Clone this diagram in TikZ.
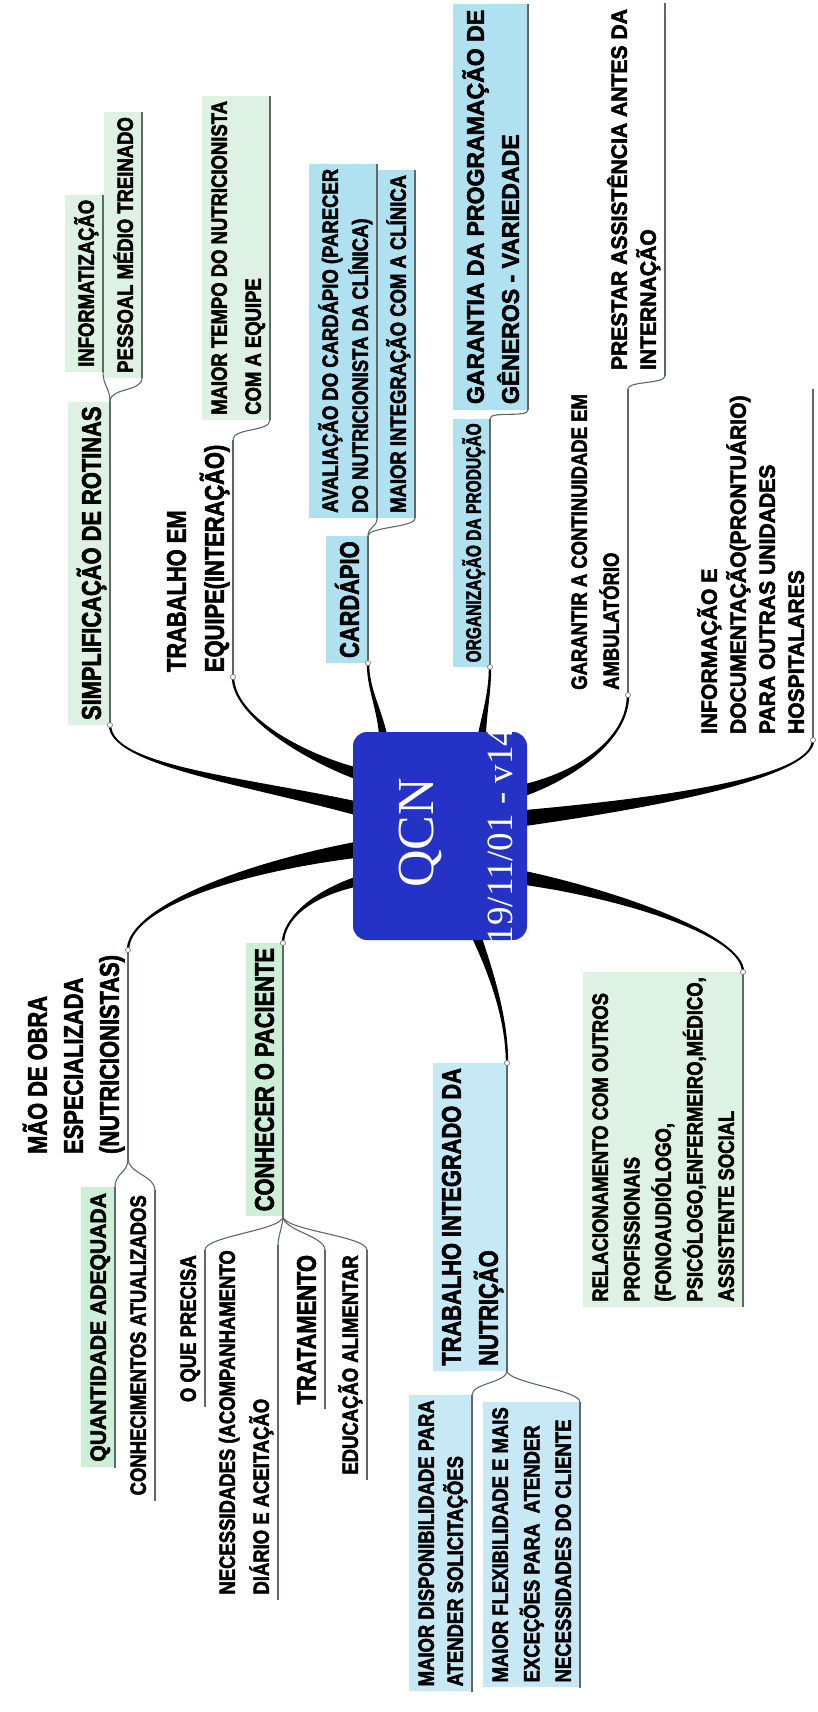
\documentclass[tikz,border=0pt]{standalone}
\usepackage{fontspec}
\setmainfont{Liberation Sans}[BoldFeatures={FakeBold=2.6}]
\newfontfamily\serf{Liberation Serif}
\usetikzlibrary{calc}

\definecolor{boxblue}{RGB}{36,50,198}
\definecolor{hlgreen}{RGB}{222,242,228}
\definecolor{hlgreen2}{RGB}{205,238,215}
\definecolor{hlcyan}{RGB}{176,225,240}
\definecolor{hlcyan2}{RGB}{198,233,245}
\definecolor{linegray}{RGB}{95,105,100}

% tapered connector: start, control1, control2, end, start half-width vector, end half-width vector
\newcommand\tconn[6]{%
  \fill[connfill] ($(#1)+#5$) .. controls ($(#2)+0.5*#5$) and ($(#3)+#6$) .. ($(#4)+#6$)
    -- ($(#4)-#6$) .. controls ($(#3)-#6$) and ($(#2)-0.5*#5$) .. ($(#1)-#5$) -- cycle;}

\tikzset{
  connfill/.style={fill=black},
  topic/.style={rotate=90, inner xsep=6pt, inner ysep=9pt, text depth=0pt, align=left, text=black},
  mtop/.style={font=\bfseries\fontsize{27}{#1}\selectfont, xscale=0.81}, mtop/.default=36,
  nar/.style={font=\bfseries\fontsize{22}{#1}\selectfont, xscale=0.84}, nar/.default=31,
  wid/.style={font=\bfseries\fontsize{22}{#1}\selectfont, xscale=0.96}, wid/.default=30,
  orgt/.style={font=\bfseries\fontsize{21}{28}\selectfont, xscale=0.74},
  gart/.style={font=\bfseries\fontsize{24}{35}\selectfont, xscale=0.96},
  uline/.style={draw=linegray, line width=1.2pt},
  fork/.style={draw=linegray, line width=1.1pt},
  joint/.style={circle, draw=linegray, fill=white, line width=0.6pt, inner sep=0pt, minimum size=5pt},
  qbox/.style={fill=boxblue, rounded corners=14pt, minimum width=174pt, minimum height=208pt, inner sep=0pt}
}

\begin{document}
\begin{tikzpicture}[x=1pt, y=-1pt]
\useasboundingbox (0,0) rectangle (818,1712);

% ---------- topic nodes (right side: anchor south west) ----------
\node[topic, mtop, fill=hlgreen, anchor=south west] (simp) at (110,725) {SIMPLIFICAÇÃO DE ROTINAS};
\node[topic, nar, fill=hlgreen, anchor=south west] (info) at (103,372) {INFORMATIZAÇÃO};
\node[topic, nar, fill=hlgreen, anchor=south west] (pess) at (142,378) {PESSOAL MÉDIO TREINADO};

\node[topic, mtop=38, anchor=south west] (equipe) at (233,677) {TRABALHO EM\\EQUIPE(INTERAÇÃO)};
\node[topic, nar=34, fill=hlgreen, anchor=south west] (tempo) at (270,420) {MAIOR TEMPO DO NUTRICIONISTA\\COM A EQUIPE};

\node[topic, mtop, fill=hlcyan, anchor=south west] (card) at (368,663) {CARDÁPIO};
\node[topic, nar=30, fill=hlcyan, anchor=south west] (aval) at (377,518) {AVALIAÇÃO DO CARDÁPIO (PARECER\\DO NUTRICIONISTA DA CLÍNICA)};
\node[topic, nar, fill=hlcyan, anchor=south west] (integ) at (415,518) {MAIOR INTEGRAÇÃO COM A CLÍNICA};

\node[topic, orgt, fill=hlcyan, anchor=south west] (org) at (490,667) {ORGANIZAÇÃO DA PRODUÇÃO};
\node[topic, gart, fill=hlcyan, anchor=south west] (gar) at (528,410) {GARANTIA DA PROGRAMAÇÃO DE\\GÊNEROS - VARIEDADE};

\node[topic, nar=32, anchor=south west] (amb) at (628,695) {GARANTIR A CONTINUIDADE EM\\AMBULATÓRIO};
\node[topic, wid=29, anchor=south west] (prest) at (665,376) {PRESTAR ASSISTÊNCIA ANTES DA\\INTERNAÇÃO};

\node[topic, wid=29, anchor=south west] (doc) at (813,740) {INFORMAÇÃO E\\DOCUMENTAÇÃO(PRONTUÁRIO)\\PARA OUTRAS UNIDADES\\HOSPITALARES};

% ---------- topic nodes (left side: anchor south east) ----------
\node[topic, mtop=36, anchor=south east] (mao) at (128,950) {MÃO DE OBRA\\ESPECIALIZADA\\(NUTRICIONISTAS)};
\node[topic, wid, fill=hlgreen2, anchor=south east] (quant) at (115,1187) {QUANTIDADE ADEQUADA};
\node[topic, nar, anchor=south east] (conhec) at (155,1190) {CONHECIMENTOS ATUALIZADOS};

\node[topic, mtop, fill=hlgreen2, anchor=south east] (pac) at (283,943) {CONHECER O PACIENTE};
\node[topic, nar, anchor=south east] (oque) at (205,1250) {O QUE PRECISA};
\node[topic, nar=34, anchor=south east] (nec) at (278,1245) {NECESSIDADES (ACOMPANHAMENTO\\DIÁRIO E ACEITAÇÃO};
\node[topic, mtop, anchor=south east] (trat) at (325,1250) {TRATAMENTO};
\node[topic, nar, anchor=south east] (edu) at (367,1250) {EDUCAÇÃO ALIMENTAR};

\node[topic, mtop=37, fill=hlcyan2, anchor=south east] (integ2) at (507,1063) {TRABALHO INTEGRADO DA\\NUTRIÇÃO};
\node[topic, nar=29, fill=hlcyan2, anchor=south east] (disp) at (472,1395) {MAIOR DISPONIBILIDADE PARA\\ATENDER SOLICITAÇÕES};
\node[topic, nar=31.5, fill=hlcyan2, anchor=south east] (flex) at (580,1402) {MAIOR FLEXIBILIDADE E MAIS\\EXCEÇÕES PARA \ ATENDER\\NECESSIDADES DO CLIENTE};

\node[topic, nar=31.5, fill=hlgreen, anchor=south east] (rel) at (743,972) {RELACIONAMENTO COM OUTROS\\PROFISSIONAIS\\(FONOAUDIÓLOGO,\\PSICÓLOGO,ENFERMEIRO,MÉDICO,\\ASSISTENTE SOCIAL};

% ---------- underlines ----------
\foreach \n in {simp,info,pess,equipe,tempo,card,aval,integ,org,gar,amb,prest,doc,mao,quant,conhec,pac,oque,nec,trat,edu,integ2,disp,flex,rel}
  \draw[uline] (\n.south west) -- (\n.south east);

% ---------- sub-branch forks ----------
\draw[fork] (simp.south east) .. controls +(0,-14) and +(0,14) .. (info.south west);
\draw[fork] (simp.south east) .. controls +(0,-14) and +(0,14) .. (pess.south west);
\draw[fork] (equipe.south east) .. controls +(0,-12) and +(0,12) .. (tempo.south west);
\draw[fork] (card.south east) .. controls +(0,-10) and +(0,10) .. (aval.south west);
\draw[fork] (card.south east) .. controls +(0,-10) and +(0,10) .. (integ.south west);
\draw[fork] (org.south east) .. controls +(0,-8) and +(0,8) .. (gar.south west);
\draw[fork] (amb.south east) .. controls +(0,-8) and +(0,8) .. (prest.south west);
\draw[fork] (mao.south west) .. controls +(0,14) and +(0,-14) .. (quant.south east);
\draw[fork] (mao.south west) .. controls +(0,14) and +(0,-14) .. (conhec.south east);
\draw[fork] (pac.south west) .. controls +(0,14) and +(0,-14) .. (oque.south east);
\draw[fork] (pac.south west) .. controls +(0,8) and +(0,-8) .. (nec.south east);
\draw[fork] (pac.south west) .. controls +(0,14) and +(0,-14) .. (trat.south east);
\draw[fork] (pac.south west) .. controls +(0,14) and +(0,-14) .. (edu.south east);
\draw[fork] (integ2.south west) .. controls +(0,12) and +(0,-12) .. (disp.south east);
\draw[fork] (integ2.south west) .. controls +(0,12) and +(0,-12) .. (flex.south east);

% ---------- main tapered connectors ----------
\coordinate (s1) at (355,808);
\coordinate (s2) at (355,773);
\coordinate (s3) at (383,734);
\coordinate (s4) at (482,734);
\coordinate (s5) at (525,790);
\coordinate (s6) at (525,818);
\coordinate (s7) at (355,850);
\coordinate (s8) at (355,882);
\coordinate (s9) at (477,938);
\coordinate (s10) at (525,878);

\tconn{s1}{240,780}{110,765}{simp.south west}{(0,7)}{(-1.2,0)}
\tconn{s2}{300,755}{233,715}{equipe.south west}{(0,6)}{(-1.2,0)}
\tconn{s3}{378,705}{368,688}{card.south west}{(4,0)}{(1.2,0)}
\tconn{s4}{485,710}{490,692}{org.south west}{(4,0)}{(1.2,0)}
\tconn{s5}{575,775}{628,740}{amb.south west}{(0,6)}{(1.2,0)}
\tconn{s6}{680,800}{813,775}{doc.south west}{(0,8)}{(1.2,0)}
\tconn{s7}{230,870}{128,910}{mao.south east}{(0,8)}{(1.2,0)}
\tconn{s8}{310,895}{283,920}{pac.south east}{(0,5)}{(1.2,0)}
\tconn{s9}{492,975}{507,1020}{integ2.south east}{(5,0)}{(1.2,0)}
\tconn{s10}{620,895}{743,935}{rel.south east}{(0,7)}{(-1.2,0)}

\foreach \p in {simp.south west,equipe.south west,card.south west,org.south west,amb.south west,doc.south west,mao.south east,pac.south east,integ2.south east,rel.south east}
  \node[joint] at (\p) {};

% ---------- central topic ----------
\node[qbox] (qcn) at (440,836) {};
\node[rotate=90, text=white, font=\serf\fontsize{52}{52}\selectfont] (qcnt) at (420,833) {QCN};
\node[rotate=90, text=white, font=\serf\fontsize{37}{37}\selectfont] (date) at (500,836) {19/11/01 - v14};

\end{tikzpicture}
\end{document}
